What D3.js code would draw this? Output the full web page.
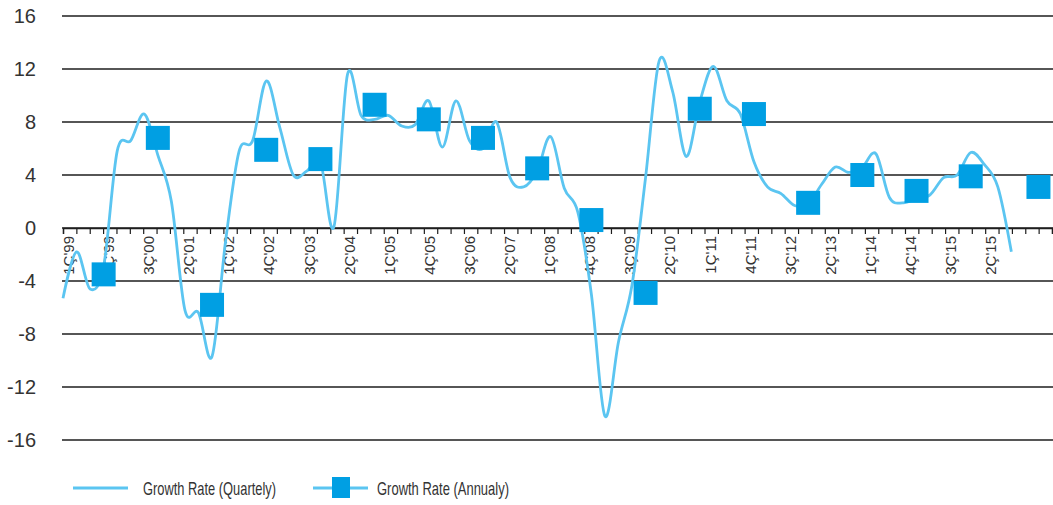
<!DOCTYPE html>
<html>
<head>
<meta charset="utf-8">
<script src="https://cdn.jsdelivr.net/npm/d3@7"></script>
<style>
  body { margin: 0; background: #fff; }
  svg text { font-family: "Liberation Sans", Arial, sans-serif; fill: #333; }
</style>
</head>
<body>
<div id="chart"></div>
<script>
// quarterly growth, 1Q99 .. 3Q16
const quarterly = [
  -5.3, -1.8, -4.6, -2.9,
   5.8,  6.6,  8.6,  5.5,
   2.0, -6.2, -6.4, -9.7,
  -1.0,  5.8,  6.6, 11.1,
   7.6,  4.0,  4.3,  5.0,
   0.1, 11.6,  8.5,  8.2,
   8.5,  7.7,  7.8,  9.6,
   6.1,  9.6,  6.6,  6.0,
   8.0,  3.8,  3.1,  4.3,
   6.9,  3.0,  1.2, -5.0,
 -14.2, -8.6, -4.3,  3.8,
  12.6, 10.3,  5.4,  9.5,
  12.2,  9.6,  8.6,  5.0,
   3.1,  2.6,  1.7,  1.8,
   3.3,  4.6,  4.2,  4.6,
   5.6,  2.3,  1.9,  2.2,
   2.5,  3.8,  4.0,  5.7,
   4.8,  3.1, -1.8
];

// annual growth, 1999 .. 2016, and the quarter each marker sits on
const annualYears  = [1999, 2000, 2001, 2002, 2003, 2004, 2005, 2006, 2007, 2008, 2009, 2010, 2011, 2012, 2013, 2014, 2015, 2016];
const annualValues = [-3.5, 6.8, -5.8, 5.9, 5.2, 9.3, 8.2, 6.8, 4.5, 0.6, -4.9, 9.0, 8.6, 1.9, 4.0, 2.8, 3.9, 3.1];
const annualAt     = ["4Q99","4Q00","4Q01","4Q02","4Q03","4Q04","4Q05","4Q06","4Q07","4Q08","4Q09","4Q10","4Q11","4Q12","4Q13","4Q14","4Q15","1Q17"];

// axis labels, one every third tick
const tickLabels = ["1Ç'99","4Ç'99","3Ç'00","2Ç'01","1Ç'02","4Ç'02","3Ç'03","2Ç'04","1Ç'05","4Ç'05","3Ç'06","2Ç'07",
                    "1Ç'08","4Ç'08","3Ç'09","2Ç'10","1Ç'11","4Ç'11","3Ç'12","2Ç'13","1Ç'14","4Ç'14","3Ç'15","2Ç'15"];
const tickCount = 75;
const yTicks = [16, 12, 8, 4, 0, -4, -8, -12, -16];

const legendItems = ["Growth Rate (Quartely)", "Growth Rate (Annualy)"];

// quarter categories 1Q99 .. 2Q17
const quarters = d3.range(74).map(i => (i % 4 + 1) + "Q" + String(1999 + Math.floor(i / 4)).slice(2));

const lineColor = "#5bc5f1", markColor = "#009fe3";

const W = 1053, H = 505;
const left = 63, right = 1052;

const svg = d3.select("#chart").append("svg")
    .attr("width", W)
    .attr("height", H);

const y = d3.scaleLinear().domain([-16, 16]).range([440, 16]);
const x = d3.scalePoint().domain(quarters).range([left, right]);
const xTick = d3.scaleLinear().domain([0, tickCount - 1]).range([left, right]);

// horizontal grid
svg.append("g")
    .selectAll("line")
    .data(yTicks)
    .join("line")
    .attr("x1", left - 1).attr("x2", W)
    .attr("y1", d => y(d)).attr("y2", d => y(d))
    .attr("stroke", "#1e1e1e")
    .attr("stroke-width", 1.4);

// y labels
svg.append("g")
    .selectAll("text")
    .data(yTicks)
    .join("text")
    .attr("x", 36)
    .attr("y", d => y(d))
    .attr("dy", "0.35em")
    .attr("text-anchor", "end")
    .style("font-size", "20px")
    .text(d => d);

// category axis on zero line
const xAxis = svg.append("g")
    .attr("transform", `translate(0,${y(0)})`)
    .call(d3.axisBottom(xTick).tickValues(d3.range(tickCount)).tickSize(6).tickFormat(""));
xAxis.select(".domain").attr("stroke", "#1e1e1e").attr("stroke-width", 1.4);
xAxis.selectAll(".tick line").attr("stroke", "#1e1e1e").attr("stroke-width", 1.2);

svg.append("g")
    .selectAll("text")
    .data(tickLabels)
    .join("text")
    .attr("transform", (d, i) => `translate(${xTick(i * 3) + 11},${y(0) + 8}) rotate(-90)`)
    .attr("text-anchor", "end")
    .style("font-size", "15px")
    .text(d => d);

// quarterly line
const line = d3.line()
    .x((d, i) => x(quarters[i]))
    .y(d => y(d))
    .curve(d3.curveCatmullRom.alpha(0));

svg.append("path")
    .datum(quarterly)
    .attr("fill", "none")
    .attr("stroke", lineColor)
    .attr("stroke-width", 2.8)
    .attr("d", line);

// annual markers
const ms = 24;
svg.append("g")
    .selectAll("rect")
    .data(annualValues)
    .join("rect")
    .attr("x", (d, i) => x(annualAt[i]) - ms / 2)
    .attr("y", d => y(d) - ms / 2)
    .attr("width", ms)
    .attr("height", ms)
    .attr("fill", markColor);

// legend (condensed text)
const lg = svg.append("g").attr("transform", "translate(0,488)");
lg.append("line")
    .attr("x1", 73).attr("x2", 128)
    .attr("stroke", lineColor).attr("stroke-width", 2.8);
lg.append("text").attr("x", 143).attr("dy", "0.35em")
    .attr("textLength", 133).attr("lengthAdjust", "spacingAndGlyphs")
    .style("font-size", "19px").text(legendItems[0]);

lg.append("line")
    .attr("x1", 313).attr("x2", 368)
    .attr("stroke", lineColor).attr("stroke-width", 2.8);
lg.append("rect")
    .attr("x", 332).attr("y", -11)
    .attr("width", 18).attr("height", 21)
    .attr("fill", markColor);
lg.append("text").attr("x", 377).attr("dy", "0.35em")
    .attr("textLength", 132).attr("lengthAdjust", "spacingAndGlyphs")
    .style("font-size", "19px").text(legendItems[1]);
</script>
</body>
</html>
